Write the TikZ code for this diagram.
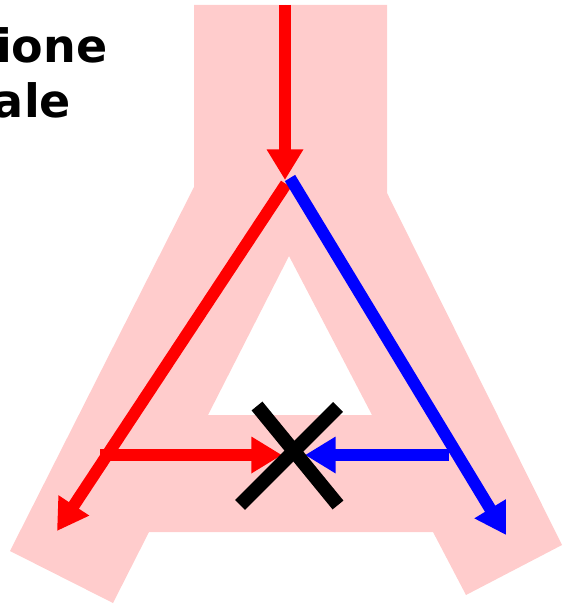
\documentclass[tikz,border=0pt]{standalone}
\usepackage{fontspec}
\setmainfont{DejaVu Sans}
\usetikzlibrary{arrows.meta}
\definecolor{bandpink}{RGB}{255,204,204}
\tikzset{every picture/.style={line width=0.75pt}}
\tikzset{
  flow/.style={line width=9pt, -{Triangle[length=23pt,width=26pt]}},
  cross/.style={line width=10.5pt, draw=black}
}

\begin{document}
\begin{tikzpicture}[
            x=0.75pt,
            y=0.75pt,
            yscale=-1,
            xscale=1,
            every node/.style={text=black},
            line width=0.75pt
        ]
            \useasboundingbox (0,0) rectangle (562,605);
            % band with the hole in the middle
            \fill [bandpink, even odd rule] (194,5) -- (387,5) -- (387,193) -- (562,545) -- (466,595) -- (433,532) -- (149,532) -- (113,603) -- (10,551) -- (194,187) -- cycle
                (289,256) -- (208,415) -- (372,415) -- cycle ;

            \coordinate (src) at (285,5);
            \coordinate (fork) at (285,180);
            \coordinate (forkL) at (286,184);
            \coordinate (forkR) at (290,178);
            \coordinate (tipL) at (57,531);
            \coordinate (tipR) at (506,535);
            \coordinate (startL) at (100,455);
            \coordinate (startR) at (449,455);
            \coordinate (meetL) at (282,455);
            \coordinate (meetR) at (305,455);

            \draw [flow, draw=red, fill=red] (src) -- (fork) ;
            \draw [flow, draw=red, fill=red] (forkL) -- (tipL) ;
            \draw [flow, draw=blue, fill=blue] (forkR) -- (tipR) ;
            \draw [flow, draw=red, fill=red] (startL) -- (meetL) ;
            \draw [flow, draw=blue, fill=blue] (startR) -- (meetR) ;

            % the blocked meeting point
            \draw [cross] (257,406) -- (338,505) ;
            \draw [cross] (338,407) -- (240,505) ;

            \draw (108,63) node [anchor=base east][inner sep=0pt] {\fontsize{34.5}{41}\selectfont\bfseries ione};
            \draw (71.5,118) node [anchor=base east][inner sep=0pt] {\fontsize{34.5}{41}\selectfont\bfseries ale};
        \end{tikzpicture}
\end{document}
